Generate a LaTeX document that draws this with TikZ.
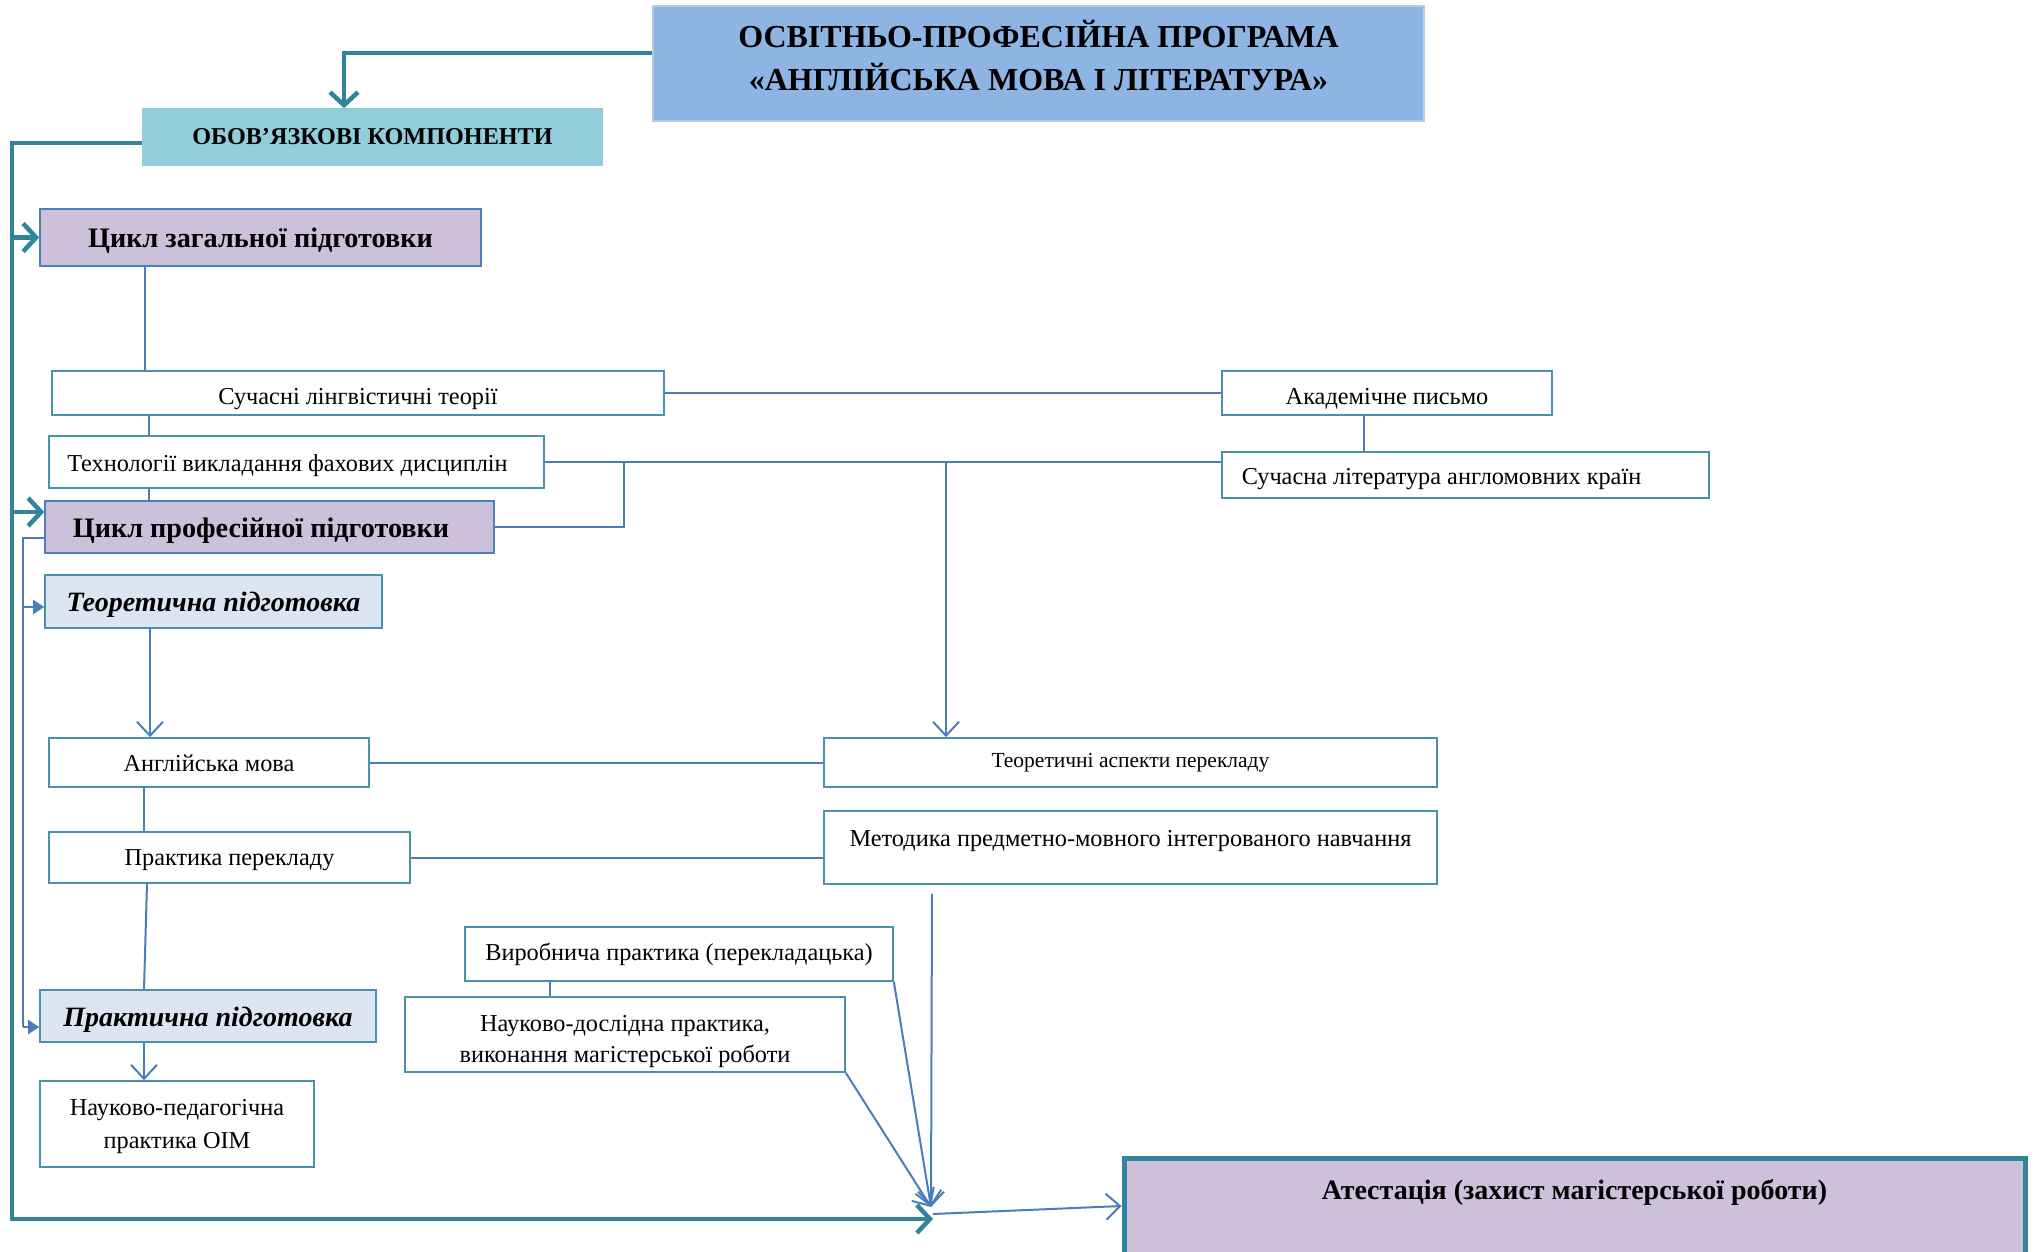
\documentclass[tikz,border=0pt]{standalone}
\usepackage{fontspec}
\setmainfont{Liberation Serif}
\usetikzlibrary{arrows.meta,calc}
\definecolor{tealc}{HTML}{31849B}
\definecolor{bluec}{HTML}{4A7EBB}
\definecolor{bordc}{HTML}{4A92AC}
\definecolor{purpc}{HTML}{CCC0DA}
\definecolor{titlec}{HTML}{8EB4E3}
\definecolor{obc}{HTML}{92CDDC}
\definecolor{subc}{HTML}{DCE6F2}
\begin{document}
\begin{tikzpicture}[x=1pt,y=-1pt,
  wh/.style 2 args={minimum width=#1pt, minimum height=#2pt},
  box/.style={draw=bordc, line width=1.6pt, inner sep=0pt, align=center, fill=white,
    font=\fontsize{24.3}{32}\selectfont},
  one/.style={text height=23pt, text depth=5pt},
  cyc/.style={box, fill=purpc, draw=bluec!80!bordc, font=\bfseries\fontsize{28.2}{32}\selectfont,
    text height=26pt, text depth=6pt},
  subbox/.style={box, fill=subc, font=\bfseries\itshape\fontsize{28}{32}\selectfont,
    text height=26pt, text depth=6pt},
  thickline/.style={draw=tealc, line width=4.5pt},
  thickarrow/.style={thickline, -{Straight Barb[length=13pt,width=28pt,line width=4.5pt]}},
  thinline/.style={draw=bluec, line width=2pt},
  thinarrow/.style={thinline, -{Straight Barb[length=14pt,width=26pt,line width=2pt]}},
  triarrow/.style={thinline, -{Triangle[length=11pt,width=14pt]}}
]
\useasboundingbox (0,0) rectangle (2035,1252);

% nodes
\node[box, fill=titlec, draw=titlec!70!white, wh={771}{115},
  font=\bfseries\fontsize{32}{43}\selectfont] (title) at (1038.5,63.5)
  {ОСВІТНЬО-ПРОФЕСІЙНА ПРОГРАМА\\«АНГЛІЙСЬКА МОВА І ЛІТЕРАТУРА»\rule[-16pt]{0pt}{1pt}};
\node[box, fill=obc, draw=obc, wh={459}{56}, font=\bfseries\fontsize{24.2}{28}\selectfont] (ob) at (372.5,137) {ОБОВ’ЯЗКОВІ КОМПОНЕНТИ};
\node[cyc, wh={441}{57}] (cz) at (260.5,237.5) {Цикл загальної підготовки};
\node[box, one, text height=28pt, wh={612}{44}] (sl) at (358,393) {Сучасні лінгвістичні теорії};
\node[box, one, text height=28pt, wh={330}{44}] (ap) at (1387,393) {Академічне письмо};
\node[box, one, wh={487}{46}] (sla) at (1465.5,475) {Сучасна література англомовних країн\hspace*{48pt}};
\node[box, one, wh={495}{52}] (tech) at (296.5,462) {Технології викладання фахових дисциплін\hspace*{18pt}};
\node[cyc, wh={449}{52}] (cp) at (269.5,527) {Цикл професійної підготовки\hspace*{17pt}};
\node[subbox, wh={337}{53}] (tp) at (213.5,601.5) {Теоретична підготовка};
\node[box, one, wh={320}{49}] (am) at (209,762.5) {Англійська мова};
\node[box, wh={613}{49}, font=\fontsize{21.5}{24}\selectfont] (ta) at (1130.5,762.5) {Теоретичні аспекти перекладу};
\node[box, one, text height=20pt, wh={361}{51}] (pp) at (229.5,857.5) {Практика перекладу};
\node[box, wh={613}{73}] (mp) at (1130.5,847.5) {\smash{\raisebox{1pt}{Методика предметно-мовного інтегрованого навчання}}};
\node[box, one, text height=18pt, wh={428}{54}] (vp) at (679,954) {Виробнича практика (перекладацька)};
\node[box, wh={440}{75}, font=\fontsize{24.3}{31.5}\selectfont] (nd) at (625,1034.5) {\rule{0pt}{30pt}Науково-дослідна практика,\\виконання магістерської роботи};
\node[subbox, wh={336}{52}] (prk) at (208,1016) {Практична підготовка};
\node[box, wh={274}{86}, font=\fontsize{24.3}{32.5}\selectfont] (np) at (177,1124) {\rule{0pt}{21pt}Науково-педагогічна\\практика ОІМ};
\node[box, fill=purpc, draw=tealc, line width=5pt, wh={901}{142}, font=\bfseries\fontsize{28}{32}\selectfont] (at) at (1574.5,1229)
  {\smash{\raisebox{30pt}{Атестація (захист магістерської роботи)}}};

% coordinates
\coordinate (J) at (931,1207);
\coordinate (J2) at (933,1219);
\coordinate (B1) at (624,462);
\coordinate (B2) at (946,462);

% thick teal connectors
\draw[thickarrow] (title.west |- 0,53) -| (ob.north -| 344,0);
\draw[thickarrow] (ob.west |- 0,143) -- (12,143) -- (12,1219) -- (J2);
\draw[thickarrow] (12,237.5) -- (cz.west);
\draw[thickarrow] (12,512) -- (cp.west |- 0,512);

% thin left loop
\draw[thinline] (cp.west |- 0,538) -- (23,538) -- (23,1027);
\draw[triarrow] (23,607) -- (tp.west |- 0,607);
\draw[triarrow] (23,1027) -- (prk.west |- 0,1027);

% links
\draw[thinline] (cz.south -| 145,0) -- (sl.north -| 145,0);
\draw[thinline] (sl.south -| 149,0) -- (tech.north -| 149,0);
\draw[thinline] (tech.south -| 149,0) -- (cp.north -| 149,0);
\draw[thinline] (sl.east) -- (ap.west);
\draw[thinline] (ap.south -| 1364,0) -- (sla.north -| 1364,0);
\draw[thinline] (tech.east) -- (sla.west |- tech.east);
\draw[thinline] (B1) |- (cp.east);
\draw[thinarrow] (B2) -- (ta.north -| 946,0);
\draw[thinarrow] (tp.south -| 150,0) -- (am.north -| 150,0);
\draw[thinline] (am.east) -- (ta.west);
\draw[thinline] (am.south -| 144,0) -- (pp.north -| 144,0);
\draw[thinline] (pp.east) -- (mp.west |- pp.east);
\draw[thinline] (pp.south -| 147,0) -- (prk.north -| 144,0);
\draw[thinarrow] (prk.south -| 144,0) -- (np.north -| 144,0);
\draw[thinline] (vp.south -| 550,0) -- (nd.north -| 550,0);
\draw[thinarrow] ([yshift=-9pt]mp.south -| 932,0) -- (J);
\draw[thinarrow] (vp.south east) -- (J);
\draw[thinarrow] (nd.south east) -- (J);
\draw[thinarrow] (933,1214) -- (at.west |- 0,1206);
\end{tikzpicture}
\end{document}
